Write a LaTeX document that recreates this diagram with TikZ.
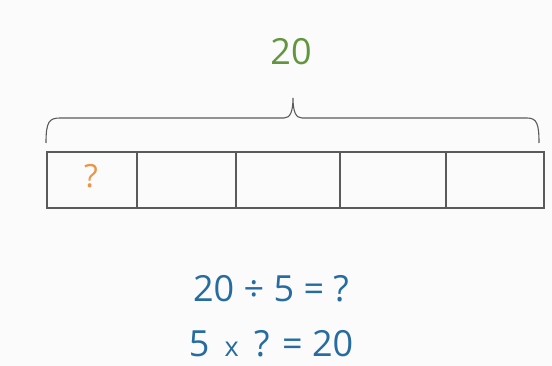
\documentclass[tikz,border=0pt]{standalone}
\usepackage{fontspec}
\setmainfont{Open Sans}
\usetikzlibrary{positioning}
\definecolor{lineg}{RGB}{90,90,90}
\definecolor{totg}{RGB}{98,150,62}
\definecolor{qor}{RGB}{232,150,72}
\definecolor{eqb}{RGB}{38,108,160}
\definecolor{bgw}{RGB}{251,251,251}

\begin{document}
\begin{tikzpicture}[x=1pt, y=-1pt,
  cell/.style={draw=lineg, line width=1.1pt, minimum height=56pt, inner sep=0pt, outer sep=0pt, anchor=north west},
  eqtext/.style={text=eqb, font=\fontsize{36}{38}\selectfont}]
% Fondo
\fill[bgw] (0,0) rectangle (552,366);
\useasboundingbox (0,0) rectangle (552,366);

% Barra con cinque parti
\node[cell, minimum width=90pt] (c1) at (47,152) {};
\node[cell, minimum width=99pt] (c2) at (137,152) {};
\node[cell, minimum width=104pt] (c3) at (236,152) {};
\node[cell, minimum width=106pt] (c4) at (340,152) {};
\node[cell, minimum width=98pt] (c5) at (446,152) {};
\node[text=qor, font=\fontsize{32}{34}\selectfont] (q) at (91,176) {?};

% Graffa sopra la barra
\draw[lineg, line width=1.1pt] (46,143) .. controls (46,122) and (49,118) .. (60,118)
  -- (284,118) .. controls (290,118) and (293,112) .. (293,98)
  .. controls (293,112) and (296,118) .. (302,118)
  -- (527,118) .. controls (537,118) and (539,124) .. (539,143);
\node[text=totg, font=\fontsize{36}{38}\selectfont] (tot) at (291,52) {20};

% Equazioni
\node[eqtext] (eq1) at (271,289) {20 ÷ 5 = ?};
\node[eqtext] (eq2) at (271,344) {5 \,\fontsize{27}{30}\selectfont x\fontsize{36}{38}\selectfont\, ? = 20};
\end{tikzpicture}
\end{document}
